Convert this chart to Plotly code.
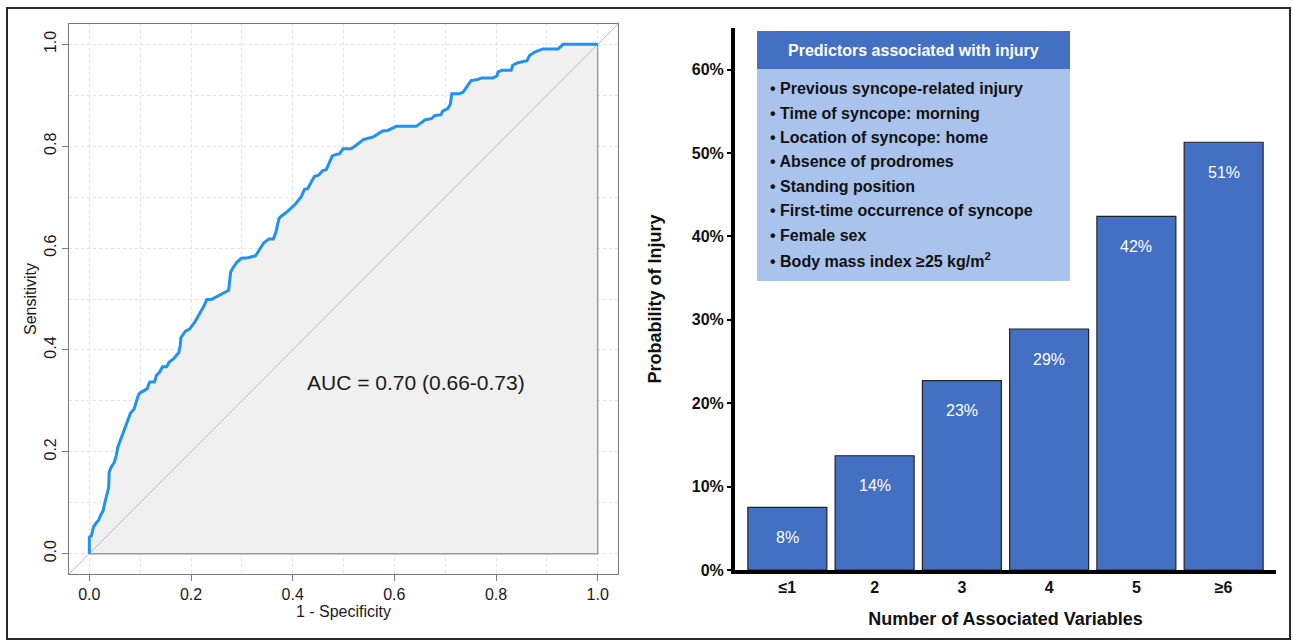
import plotly.graph_objects as go

W, H = 1293, 642          # reference picture size
H_PAGE = 651              # figure height (the photo is squeezed to 642 rows)

# ---------------- data ----------------
fpr = [0.000, 0.000, 0.004, 0.008, 0.014, 0.018, 0.022, 0.027, 0.030, 0.035, 0.038, 0.039,
       0.043, 0.049, 0.053, 0.056, 0.063, 0.070, 0.076, 0.081, 0.088, 0.091, 0.096, 0.099,
       0.108, 0.114, 0.117, 0.119, 0.128, 0.132, 0.138, 0.144, 0.152, 0.157, 0.167, 0.176,
       0.179, 0.180, 0.189, 0.197, 0.207, 0.217, 0.222, 0.226, 0.231, 0.240, 0.274, 0.276,
       0.278, 0.283, 0.290, 0.299, 0.312, 0.327, 0.335, 0.343, 0.353, 0.362, 0.367, 0.373,
       0.377, 0.390, 0.406, 0.417, 0.423, 0.430, 0.436, 0.443, 0.451, 0.459, 0.466, 0.472,
       0.478, 0.486, 0.492, 0.499, 0.515, 0.525, 0.539, 0.558, 0.577, 0.587, 0.604, 0.643,
       0.652, 0.661, 0.673, 0.679, 0.692, 0.695, 0.705, 0.710, 0.713, 0.728, 0.735, 0.751,
       0.764, 0.771, 0.794, 0.802, 0.804, 0.812, 0.830, 0.833, 0.843, 0.861, 0.866, 0.876,
       0.892, 0.922, 0.932, 1.000]
tpr = [0.000, 0.032, 0.035, 0.052, 0.061, 0.065, 0.075, 0.084, 0.098, 0.117, 0.130, 0.160,
       0.170, 0.179, 0.193, 0.209, 0.229, 0.245, 0.265, 0.276, 0.284, 0.294, 0.310, 0.315,
       0.320, 0.324, 0.333, 0.337, 0.337, 0.350, 0.356, 0.367, 0.367, 0.376, 0.384, 0.395,
       0.409, 0.424, 0.437, 0.441, 0.454, 0.471, 0.479, 0.487, 0.499, 0.499, 0.517, 0.540,
       0.553, 0.562, 0.572, 0.580, 0.581, 0.585, 0.599, 0.610, 0.618, 0.618, 0.631, 0.658,
       0.662, 0.672, 0.687, 0.701, 0.715, 0.717, 0.729, 0.741, 0.743, 0.752, 0.754, 0.766,
       0.781, 0.784, 0.785, 0.795, 0.795, 0.802, 0.813, 0.818, 0.830, 0.831, 0.839, 0.839,
       0.845, 0.852, 0.854, 0.860, 0.862, 0.869, 0.874, 0.882, 0.903, 0.903, 0.906, 0.929,
       0.931, 0.934, 0.934, 0.938, 0.946, 0.949, 0.949, 0.959, 0.964, 0.968, 0.978, 0.985,
       0.991, 0.991, 1.000, 1.000]
auc_text = "AUC = 0.70 (0.66-0.73)"
roc_ticks = [0.0, 0.2, 0.4, 0.6, 0.8, 1.0]

categories = ["≤1", "2", "3", "4", "5", "≥6"]
probabilities = [7.5, 13.7, 22.7, 28.9, 42.4, 51.3]
bar_labels = ["8%", "14%", "23%", "29%", "42%", "51%"]
pct_ticks = [0, 10, 20, 30, 40, 50, 60]
pct_tick_labels = ["0%", "10%", "20%", "30%", "40%", "50%", "60%"]

box_title = "Predictors associated with injury"
predictors = [
    "Previous syncope-related injury",
    "Time of syncope: morning",
    "Location of syncope: home",
    "Absence of prodromes",
    "Standing position",
    "First-time occurrence of syncope",
    "Female sex",
    "Body mass index ≥25 kg/m<sup>2</sup>",
]

# ---------------- helpers ----------------
FONT = "Liberation Sans, Arial, Helvetica, sans-serif"
def px(x):
    return x / W
def py(y):
    return 1 - y / H

BAR_BLUE = "#4370C2"
LIGHT_BLUE = "#AAC3EC"

fig = go.Figure()

# ---- ROC panel ----
fig.add_trace(go.Scatter(
    x=fpr + [1.0, 0.0], y=tpr + [0.0, 0.0], mode="lines", fill="toself",
    fillcolor="#f0f0f0", line=dict(color="#9a9a9a", width=1.5),
    hoverinfo="skip", showlegend=False, xaxis="x", yaxis="y"))
fig.add_trace(go.Scatter(
    x=[-0.04, 1.04], y=[-0.04, 1.04], mode="lines",
    line=dict(color="#bdbdbd", width=1), hoverinfo="skip", showlegend=False,
    xaxis="x", yaxis="y"))
fig.add_trace(go.Scatter(
    x=fpr, y=tpr, mode="lines", line=dict(color="#2192F2", width=3),
    showlegend=False, xaxis="x", yaxis="y"))

# ---- bar panel ----
fig.add_trace(go.Bar(
    x=categories, y=probabilities, marker=dict(color=BAR_BLUE, line=dict(color="#222222", width=1.2)),
    showlegend=False, xaxis="x2", yaxis="y2", hovertemplate="%{x}: %{y}%<extra></extra>"))

annotations = []
for i, (v, lab) in enumerate(zip(probabilities, bar_labels)):
    annotations.append(dict(x=i, y=v, xref="x2", yref="y2", text=lab, showarrow=False,
                            yshift=-30, yanchor="middle",
                            font=dict(family=FONT, size=16, color="white")))

annotations.append(dict(x=0.643, y=0.336, xref="x", yref="y", text=auc_text, showarrow=False,
                        font=dict(family=FONT, size=21, color="#1a1a1a")))

# predictor box
box_x0, box_x1 = 757, 1070
box_top, head_bot, box_bot = 31, 69, 281
shapes = [
    dict(type="rect", xref="paper", yref="paper", x0=px(box_x0), x1=px(box_x1),
         y0=py(box_bot), y1=py(head_bot), fillcolor=LIGHT_BLUE, line=dict(width=0), layer="above"),
    dict(type="rect", xref="paper", yref="paper", x0=px(box_x0), x1=px(box_x1),
         y0=py(head_bot), y1=py(box_top), fillcolor=BAR_BLUE, line=dict(width=0), layer="above"),
    # outer frame
    dict(type="rect", xref="paper", yref="paper", x0=px(7), x1=px(1290), y0=py(639), y1=py(8),
         line=dict(color="#2a2a2a", width=2), fillcolor="rgba(0,0,0,0)", layer="above"),
]
annotations.append(dict(x=px((box_x0 + box_x1) / 2), y=py(50), xref="paper", yref="paper",
                        text=box_title, showarrow=False, xanchor="center", yanchor="middle",
                        font=dict(family=FONT, size=16, color="white", weight="bold")))
for i, item in enumerate(predictors):
    annotations.append(dict(x=px(768), y=py(88.7 + 24.4 * i), xref="paper", yref="paper",
                            text="• " + item, showarrow=False, xanchor="left", yanchor="middle",
                            font=dict(family=FONT, size=16, color="#111111", weight="bold")))

fig.update_layout(
    width=W, height=H_PAGE, autosize=False,
    margin=dict(l=0, r=0, t=0, b=0),
    paper_bgcolor="white", plot_bgcolor="white",
    font=dict(family=FONT, color="#1a1a1a"),
    shapes=shapes, annotations=annotations,
    bargap=0.095,
    xaxis=dict(
        domain=[px(69), px(618)], range=[-0.04, 1.04], anchor="y",
        tickvals=roc_ticks, tickformat=".1f", ticks="outside", ticklen=6, tickcolor="#7a7a7a",
        showline=True, mirror=True, linecolor="#7a7a7a", linewidth=1,
        showgrid=True, gridcolor="#e3e3e3", griddash="dot", zeroline=False,
        minor=dict(dtick=0.1, tick0=0, showgrid=True, gridcolor="#e3e3e3", griddash="dot"),
        tickfont=dict(family=FONT, size=16, color="#1a1a1a"),
        title=dict(text="1 - Specificity", font=dict(family=FONT, size=16, color="#1a1a1a"), standoff=0),
    ),
    yaxis=dict(
        domain=[py(574), py(24)], range=[-0.04, 1.04], anchor="x",
        tickvals=roc_ticks, tickformat=".1f", ticks="outside", ticklen=6, tickcolor="#7a7a7a",
        tickangle=-90,
        showline=True, mirror=True, linecolor="#7a7a7a", linewidth=1,
        showgrid=True, gridcolor="#e3e3e3", griddash="dot", zeroline=False,
        minor=dict(dtick=0.1, tick0=0, showgrid=True, gridcolor="#e3e3e3", griddash="dot"),
        tickfont=dict(family=FONT, size=16, color="#1a1a1a"),
        title=dict(text="Sensitivity", font=dict(family=FONT, size=16, color="#1a1a1a"), standoff=0),
    ),
    xaxis2=dict(
        domain=[px(735), px(1276)], range=[-0.6, 5.6], anchor="y2", type="category",
        showline=True, linecolor="black", linewidth=4, ticks="", showgrid=False, zeroline=False,
        tickfont=dict(family=FONT, size=16, color="#111111", weight="bold"),
        title=dict(text="Number of Associated Variables",
                   font=dict(family=FONT, size=18, color="#111111", weight="bold"), standoff=18),
    ),
    yaxis2=dict(
        domain=[py(570), py(28)], range=[0, 65], anchor="x2",
        tickvals=pct_ticks, ticktext=pct_tick_labels, ticks="outside", ticklen=4, tickwidth=2,
        tickcolor="black",
        showline=True, linecolor="black", linewidth=4, showgrid=False, zeroline=False,
        tickfont=dict(family=FONT, size=16, color="#111111", weight="bold"),
        title=dict(text="Probability of Injury",
                   font=dict(family=FONT, size=18, color="#111111", weight="bold"), standoff=26),
    ),
)

fig.write_html(
    "out.html",
    config={"displayModeBar": False, "responsive": False},
    post_script=("document.body.style.margin='0';document.body.style.overflow='hidden';"
                 "document.documentElement.style.overflow='hidden';"),
)
